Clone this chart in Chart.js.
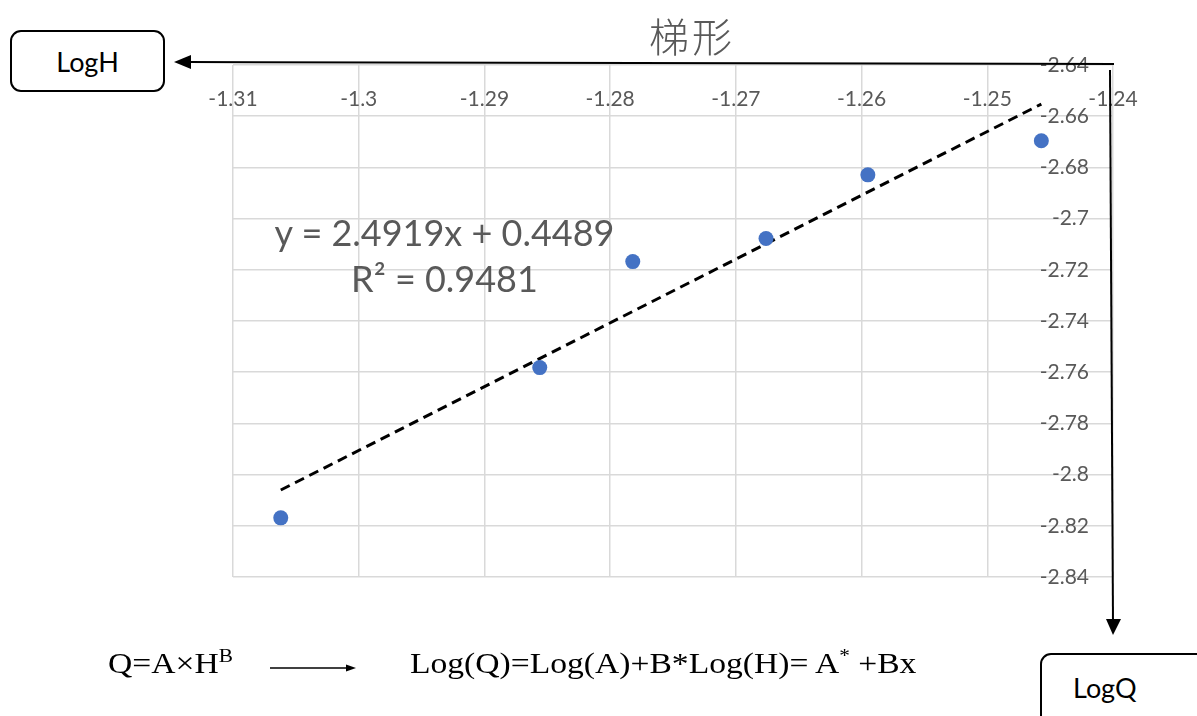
<!DOCTYPE html>
<html>
<head>
<meta charset="utf-8">
<script src="https://cdn.jsdelivr.net/npm/chart.js@4/dist/chart.umd.min.js"></script>
<style>
  html, body { margin: 0; padding: 0; background: #fff; }
  #wrap { position: relative; width: 1197px; height: 716px; overflow: hidden; }
  #chart { position: absolute; left: 0; top: 0; }
  .box { position: absolute; border: 2px solid #000; border-radius: 11px; background: #fff;
         font-family: Lato, "Open Sans", sans-serif; font-size: 27px; color: #000;
         display: flex; align-items: center; justify-content: center; box-sizing: border-box; }
  #title { position: absolute; left: 649px; top: 6px; font-family: "Noto Sans CJK TC", serif;
           font-size: 40px; color: #595959; font-weight: 300; letter-spacing: 3px; }
  #eq { position: absolute; left: 242px; top: 209px; width: 405px; text-align: center;
        font-family: Lato, sans-serif; font-size: 36px; line-height: 46px; color: #595959; }
  .formula { position: absolute; top: 646px; font-family: "Liberation Serif", "Times New Roman", serif;
             font-size: 30px; color: #000; white-space: nowrap; transform: scaleX(1.12); transform-origin: 0 0; }
  .formula sup { font-size: 19px; vertical-align: 0; position: relative; top: -11px; }
  svg { position: absolute; left: 0; top: 0; }
</style>
</head>
<body>
<div id="wrap">
  <canvas id="chart" width="1197" height="716"></canvas>
  <div id="title">梯形</div>
  <div id="eq">y = 2.4919x + 0.4489<br>R² = 0.9481</div>
  <svg width="1197" height="716">
    <line x1="1114" y1="64" x2="188" y2="62" stroke="#000" stroke-width="2"/>
    <polygon points="174,62 191,55 191,69" fill="#000"/>
    <line x1="1110" y1="70" x2="1113" y2="622" stroke="#000" stroke-width="2"/>
    <polygon points="1113,635 1106,619 1121,619" fill="#000"/>
    <line x1="270" y1="668" x2="347" y2="668" stroke="#000" stroke-width="1.3"/>
    <polygon points="356,668 346,664.5 346,671.5" fill="#000"/>
  </svg>
  <div class="box" style="left:10px; top:30px; width:155px; height:62px;">LogH</div>
  <div class="box" style="left:1040px; top:653px; width:180px; height:80px; align-items:flex-start; justify-content:flex-start; padding:16px 0 0 31px;">LogQ</div>
  <div class="formula" style="left:108px;">Q=A×H<sup>B</sup></div>
  <div class="formula" style="left:410px;">Log(Q)=Log(A)+B*Log(H)= A<sup>*</sup> +Bx</div>
</div>
<script>
// measured points (log H, log Q)
const logH = [-1.3062, -1.2856, -1.2782, -1.2676, -1.2595, -1.2457];
const logQ = [-2.8169, -2.7582, -2.7168, -2.7078, -2.6829, -2.6696];

// trendline as reported on the chart
const slope = 2.4919;
const intercept = 0.4489;

const xMin = -1.31, xMax = -1.24, xStep = 0.01;
const yMin = -2.84, yMax = -2.64, yStep = 0.02;

const points = logH.map((x, i) => ({ x, y: logQ[i] }));
const trendX = [Math.min(...logH), Math.max(...logH)];
const trend = trendX.map(x => ({ x, y: slope * x + intercept }));

// Excel style numbers: -1.3 not -1.30
const fmt = v => String(+v.toFixed(2));

new Chart(document.getElementById('chart'), {
  type: 'scatter',
  data: {
    datasets: [
      {
        data: points,
        backgroundColor: '#4472C4',
        borderWidth: 0,
        pointRadius: 7.5,
        pointHoverRadius: 7.5
      },
      {
        type: 'line',
        data: trend,
        borderColor: '#000',
        borderWidth: 3,
        borderDash: [10, 6],
        pointRadius: 0,
        fill: false
      }
    ]
  },
  options: {
    responsive: false,
    animation: false,
    events: [],
    layout: { padding: { left: 233, top: 65, right: 84, bottom: 139 } },
    plugins: { legend: { display: false }, tooltip: { enabled: false } },
    scales: {
      x: {
        type: 'linear',
        min: xMin, max: xMax,
        position: { y: yMax },
        border: { display: false },
        grid: { color: '#d9d9d9', lineWidth: 1.5, drawTicks: false },
        ticks: {
          stepSize: xStep,
          padding: 22,
          color: '#595959',
          font: { family: 'Lato', size: 21 },
          callback: fmt,
          maxRotation: 0,
          autoSkip: false
        }
      },
      y: {
        type: 'linear',
        min: yMin, max: yMax,
        position: 'right',
        border: { display: false },
        grid: { color: '#d9d9d9', lineWidth: 1.5, drawTicks: false },
        afterFit: s => { s.width = 0; },
        ticks: {
          stepSize: yStep,
          mirror: true,
          padding: -24,
          color: '#595959',
          font: { family: 'Lato', size: 21 },
          callback: fmt
        }
      }
    }
  }
});
</script>
</body>
</html>
